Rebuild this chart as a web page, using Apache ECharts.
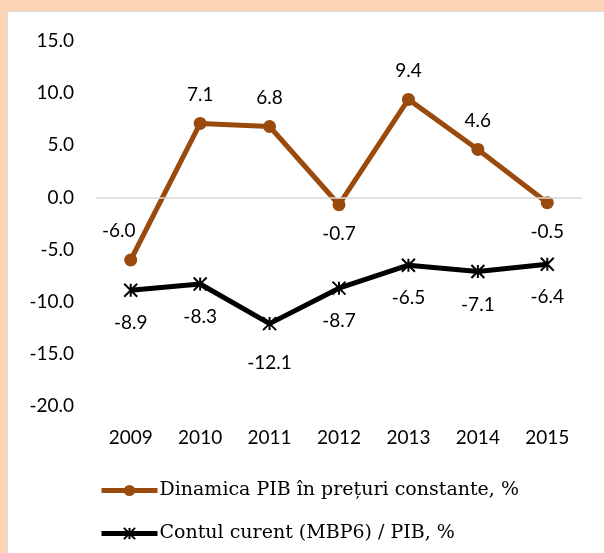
<!DOCTYPE html>
<html>
<head>
<meta charset="utf-8">
<script src="https://cdn.jsdelivr.net/npm/echarts@6/dist/echarts.min.js"></script>
<style>
    html, body { margin: 0; padding: 0; background: #fcd5b4; }
    #frame { position: absolute; left: 7px; top: 11px; width: 597px; height: 542px; background: #fff; border-top: 1px solid #d9d9d9; border-left: 1px solid #d9d9d9; box-sizing: border-box; }
    #chart { position: absolute; left: 0; top: 0; width: 604px; height: 553px; }
</style>
</head>
<body>
<div id="frame"></div>
<div id="chart"></div>
<script>
// 年份与两组数据
var years = ['2009', '2010', '2011', '2012', '2013', '2014', '2015'];
var pibDinamica = [-6.0, 7.1, 6.8, -0.7, 9.4, 4.6, -0.5];
var contCurent = [-8.9, -8.3, -12.1, -8.7, -6.5, -7.1, -6.4];
var seriesNames = ['Dinamica PIB în prețuri constante, %', 'Contul curent (MBP6) / PIB, %'];

// 标签位置：PIB 大多在上方，负值在下方
var pibLabelPos = ['top', 'top', 'top', 'bottom', 'top', 'top', 'bottom'];

var numFont = 'Lato';
var chart = echarts.init(document.getElementById('chart'));

var pibData = pibDinamica.map(function(v, i) {
    var item = { value: v, label: { position: pibLabelPos[i] } };
    if (i === 0) item.label.offset = [-12, 0];
    return item;
});
var contData = contCurent.map(function(v, i) {
    var item = { value: v };
    if (i === 2) item.label = { distance: 22 };
    return item;
});

chart.setOption({
    backgroundColor: 'transparent',
    animation: false,
    grid: { left: 96, right: 22, top: 41, bottom: 147, containLabel: false },
    legend: {
        orient: 'vertical',
        left: 99,
        top: 481,
        padding: 0,
        itemWidth: 56,
        itemHeight: 14,
        itemGap: 24,
        lineStyle: { width: 5 },
        data: seriesNames,
        textStyle: { fontFamily: 'DejaVu Serif', fontSize: 19, color: '#000', padding: [0, 0, 0, -3] }
    },
    xAxis: {
        type: 'category',
        data: years,
        axisLine: { show: false, onZero: false },
        axisTick: { show: false },
        axisLabel: { margin: 22, fontFamily: numFont, fontSize: 19, color: '#000' }
    },
    yAxis: {
        type: 'value',
        min: -20,
        max: 15,
        interval: 5,
        splitLine: { show: false },
        axisLine: { show: false },
        axisTick: { show: false },
        axisLabel: {
            margin: 22,
            fontFamily: numFont, fontSize: 19, color: '#000',
            formatter: function(v) { return v.toFixed(1); }
        }
    },
    series: [{
        name: seriesNames[0],
        type: 'line',
        data: pibData,
        symbol: 'circle',
        symbolSize: 13,
        lineStyle: { color: '#9a4a0c', width: 5 },
        itemStyle: { color: '#9a4a0c' },
        label: {
            show: true,
            distance: 13,
            fontFamily: numFont, fontSize: 19, color: '#000',
            formatter: function(p) { return p.value.toFixed(1); }
        },
        markLine: {
            silent: true,
            symbol: 'none',
            label: { show: false },
            lineStyle: { color: '#d9d9d9', width: 1.5, type: 'solid' },
            data: [{ yAxis: 0 }]
        },
        z: 3
    }, {
        name: seriesNames[1],
        type: 'line',
        data: contData,
        symbol: 'path://M0,0L10,10M10,0L0,10M5,0L5,10',
        symbolSize: 13,
        lineStyle: { color: '#000', width: 5 },
        itemStyle: { color: '#000', borderColor: '#000', borderWidth: 2 },
        label: {
            show: true,
            position: 'bottom',
            distance: 16,
            fontFamily: numFont, fontSize: 19, color: '#000',
            formatter: function(p) { return p.value.toFixed(1); }
        },
        z: 2
    }]
});
</script>
</body>
</html>
